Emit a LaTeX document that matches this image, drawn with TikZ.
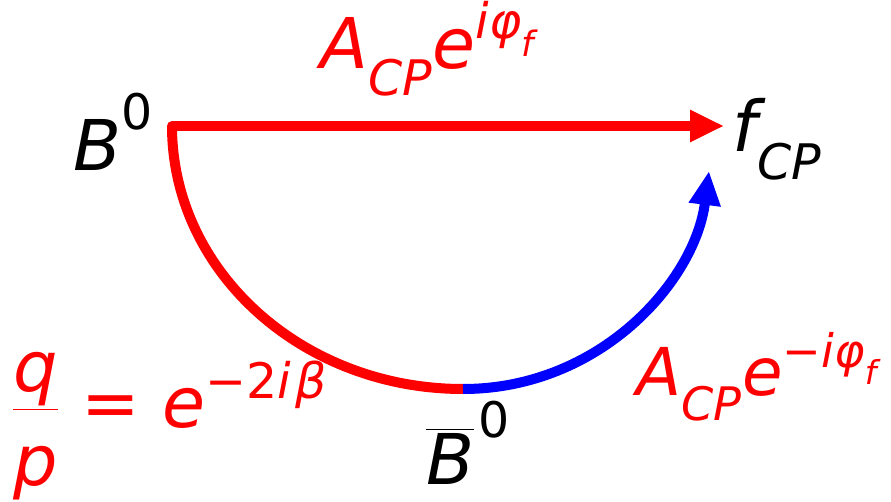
\documentclass[tikz,border=0pt]{standalone}
\usepackage{amsmath}
\usepackage{fontspec}
\setmainfont{DejaVu Sans}
\usetikzlibrary{arrows.meta}
\newcommand\ti[1]{\text{\itshape #1}}
\definecolor{pred}{RGB}{255,0,0}
\definecolor{pblue}{RGB}{0,0,255}
\begin{document}
\begin{tikzpicture}[x=1pt,y=1pt,
  lbl/.style={inner sep=0pt,font=\fontsize{70}{80}\selectfont},
  redlbl/.style={lbl,text=pred},
  path/.style={line width=10pt}]
\useasboundingbox (0,0) rectangle (891,501);
% nodes
\node[lbl] (B) at (113,369) {$\ti{B}^{\text{0}}$};
\node[lbl] (f) at (777,362) {$\ti{f}_{\ti{CP}}$};
\node[lbl] (Bb) at (468,58) {$\overline{\ti{B}}^{\,\text{0}}$};
\node[redlbl] (top) at (428,452) {$\ti{A}_{\ti{CP}}\ti{e}^{\ti{i}\ti{φ}_{\ti{f}}}$};
\node[redlbl,anchor=west] (qp) at (12,75) {\raisebox{12pt}{$\dfrac{\ti{q}}{\rule{0pt}{72pt}\ti{p}}$}\ = $\ti{e}^{\text{−2}\ti{i}\,\ti{β}}$};
\node[redlbl,font=\fontsize{66}{80}\selectfont] (br) at (757,124) {$\ti{A}_{\ti{CP}}\ti{e}^{\text{−}\ti{i}\ti{φ}_{\ti{f}}}$};
% coordinates
\coordinate (s) at (172,375);
\coordinate (j) at (463,112);
\coordinate (t1) at (724,375);
\coordinate (t2) at (709,330);
% connectors
\draw[path,pred,line cap=round] (j) arc[start angle=270,end angle=180,x radius=291,y radius=263];
\draw[path,pred,-{Triangle[length=34pt,width=30pt]}] (s) -- (t1);
\draw[path,pblue,-{Triangle[length=34pt,width=30pt]}] (j) .. controls (600,112) and (695,220) .. (t2);
\end{tikzpicture}
\end{document}
